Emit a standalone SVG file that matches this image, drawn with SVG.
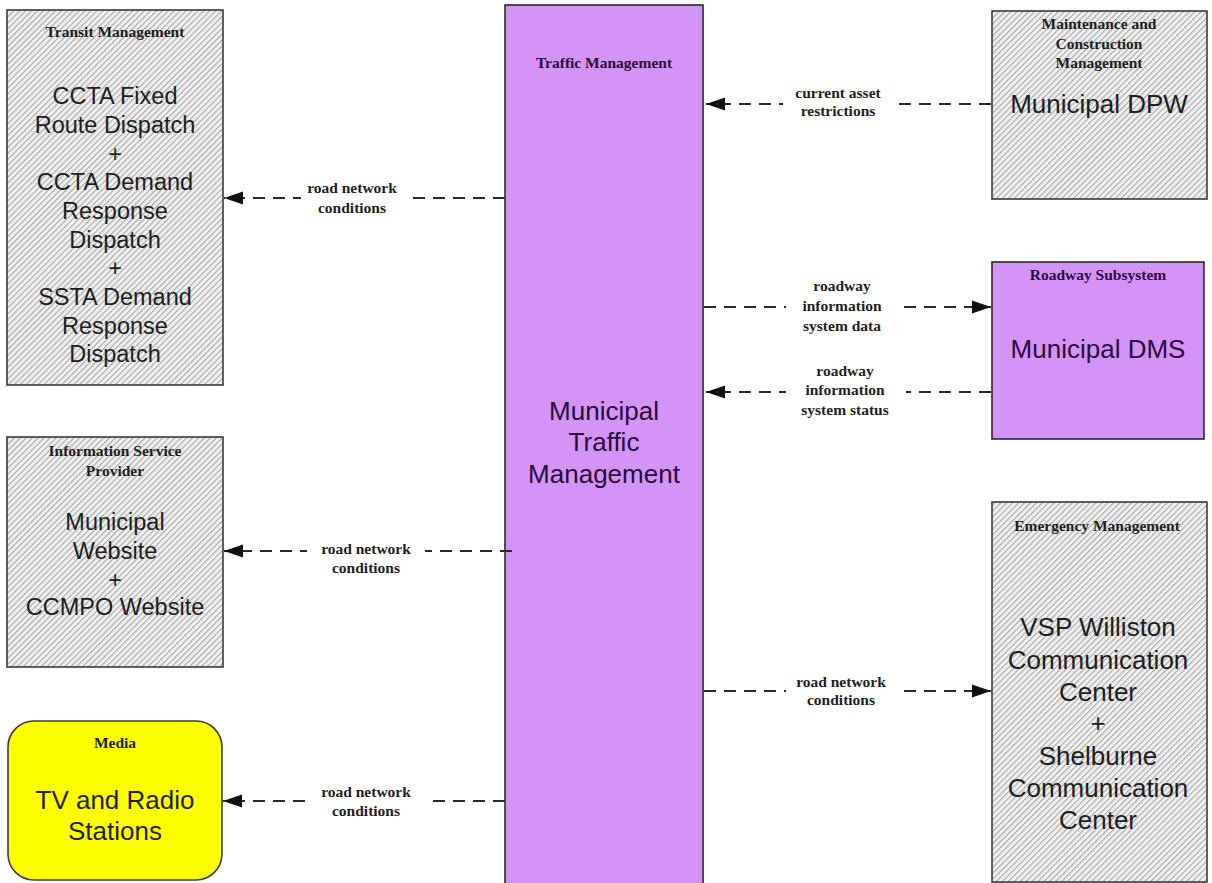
<svg xmlns="http://www.w3.org/2000/svg" width="1212" height="883" viewBox="0 0 1212 883">
<defs>
<pattern id="hatch" patternUnits="userSpaceOnUse" width="4.2" height="4.2" patternTransform="rotate(45)">
<rect width="4.2" height="4.2" fill="#f0f0f0"/>
<line x1="0.6" y1="0" x2="0.6" y2="4.2" stroke="#a8a8a8" stroke-width="1.1"/>
</pattern>
<marker id="arr" markerUnits="userSpaceOnUse" markerWidth="20" markerHeight="14" refX="19" refY="7" orient="auto">
<path d="M0,0.5 L19,7 L0,13.5 z" fill="#111"/>
</marker>
<style>
.gray{fill:url(#hatch);stroke:#3a3a3a;stroke-width:1.6}
.purple{fill:#d494f7;stroke:#2a2a2a;stroke-width:1.6}
.title{font-family:"Liberation Serif","Times New Roman",serif;font-weight:bold;font-size:15.5px;fill:#1e1e1e;text-anchor:middle}
.ptitle{font-family:"Liberation Serif","Times New Roman",serif;font-weight:bold;font-size:15.5px;fill:#2a0a3a;text-anchor:middle}
.big{font-family:"Liberation Sans",Arial,sans-serif;font-size:23.5px;fill:#1e1e1e;text-anchor:middle}
.big26{font-family:"Liberation Sans",Arial,sans-serif;font-size:26px;fill:#1e1e1e;text-anchor:middle}
.pbig{font-family:"Liberation Sans",Arial,sans-serif;font-size:26px;fill:#2a0a3a;text-anchor:middle}
.flow{stroke:#2a2a2a;stroke-width:2.2;stroke-dasharray:12 8;fill:none}
.lbl{font-family:"Liberation Serif","Times New Roman",serif;font-weight:bold;font-size:15.5px;fill:#1e1e1e;text-anchor:middle}
.gap{fill:#ffffff}
</style>
</defs>
<rect width="1212" height="883" fill="#ffffff"/>

<g id="traffic-management">
<rect class="purple" x="505" y="5" width="198" height="880"/>
<text class="ptitle" x="604" y="68">Traffic Management</text>
<text class="pbig" x="604" y="420">Municipal</text>
<text class="pbig" x="604" y="451">Traffic</text>
<text class="pbig" x="604" y="483">Management</text>
</g>

<g id="transit-management">
<rect class="gray" x="7" y="10" width="216" height="375"/>
<text class="title" x="115" y="37">Transit Management</text>
<text class="big" x="115" y="104">CCTA Fixed</text>
<text class="big" x="115" y="133">Route Dispatch</text>
<text class="big" x="115" y="162">+</text>
<text class="big" x="115" y="190">CCTA Demand</text>
<text class="big" x="115" y="219">Response</text>
<text class="big" x="115" y="248">Dispatch</text>
<text class="big" x="115" y="276">+</text>
<text class="big" x="115" y="305">SSTA Demand</text>
<text class="big" x="115" y="334">Response</text>
<text class="big" x="115" y="362">Dispatch</text>
</g>

<g id="information-service-provider">
<rect class="gray" x="7" y="437" width="216" height="230"/>
<text class="title" x="115" y="456">Information Service</text>
<text class="title" x="115" y="476">Provider</text>
<text class="big" x="115" y="530">Municipal</text>
<text class="big" x="115" y="559">Website</text>
<text class="big" x="115" y="588">+</text>
<text class="big" x="115" y="615">CCMPO Website</text>
</g>

<g id="media">
<rect x="8" y="721" width="214" height="159" rx="26" ry="26" fill="#ffff00" stroke="#3a3a3a" stroke-width="1.6"/>
<text class="title" x="115" y="748">Media</text>
<text class="big26" x="115" y="809">TV and Radio</text>
<text class="big26" x="115" y="840">Stations</text>
</g>

<g id="maintenance-construction">
<rect class="gray" x="992" y="11" width="215" height="188"/>
<text class="title" x="1099" y="29">Maintenance and</text>
<text class="title" x="1099" y="49">Construction</text>
<text class="title" x="1099" y="68">Management</text>
<text class="big26" x="1099" y="113">Municipal DPW</text>
</g>

<g id="roadway-subsystem">
<rect class="purple" x="992" y="262" width="212" height="177"/>
<text class="ptitle" x="1098" y="280">Roadway Subsystem</text>
<text class="pbig" x="1098" y="358">Municipal DMS</text>
</g>

<g id="emergency-management">
<rect class="gray" x="992" y="502" width="215" height="380"/>
<text class="title" x="1097" y="531">Emergency Management</text>
<text class="big26" x="1098" y="636">VSP Williston</text>
<text class="big26" x="1098" y="669">Communication</text>
<text class="big26" x="1098" y="701">Center</text>
<text class="big26" x="1098" y="732">+</text>
<text class="big26" x="1098" y="765">Shelburne</text>
<text class="big26" x="1098" y="797">Communication</text>
<text class="big26" x="1098" y="829">Center</text>
</g>

<g id="connectors">
<path class="flow" d="M991,104 L706,104" marker-end="url(#arr)"/>
<rect class="gap" x="783" y="84" width="114" height="40"/>
<text class="lbl" x="838" y="98">current asset</text>
<text class="lbl" x="838" y="116">restrictions</text>

<path class="flow" d="M505,198 L224,198" marker-end="url(#arr)"/>
<rect class="gap" x="301" y="178" width="104" height="40"/>
<text class="lbl" x="352" y="193">road network</text>
<text class="lbl" x="352" y="213">conditions</text>

<path class="flow" d="M704,307 L991,307" marker-end="url(#arr)"/>
<rect class="gap" x="786" y="276" width="114" height="60"/>
<text class="lbl" x="842" y="291">roadway</text>
<text class="lbl" x="842" y="311">information</text>
<text class="lbl" x="842" y="331">system data</text>

<path class="flow" d="M991,392 L706,392" marker-end="url(#arr)"/>
<rect class="gap" x="786" y="361" width="120" height="60"/>
<text class="lbl" x="845" y="376">roadway</text>
<text class="lbl" x="845" y="395">information</text>
<text class="lbl" x="845" y="415">system status</text>

<path class="flow" d="M512,551 L224,551" marker-end="url(#arr)"/>
<rect class="gap" x="307" y="538" width="118" height="40"/>
<text class="lbl" x="366" y="554">road network</text>
<text class="lbl" x="366" y="573">conditions</text>

<path class="flow" d="M704,691 L991,691" marker-end="url(#arr)"/>
<rect class="gap" x="786" y="671" width="112" height="40"/>
<text class="lbl" x="841" y="687">road network</text>
<text class="lbl" x="841" y="705">conditions</text>

<path class="flow" d="M505,801 L223,801" marker-end="url(#arr)"/>
<rect class="gap" x="307" y="781" width="118" height="40"/>
<text class="lbl" x="366" y="797">road network</text>
<text class="lbl" x="366" y="816">conditions</text>
</g>
</svg>
